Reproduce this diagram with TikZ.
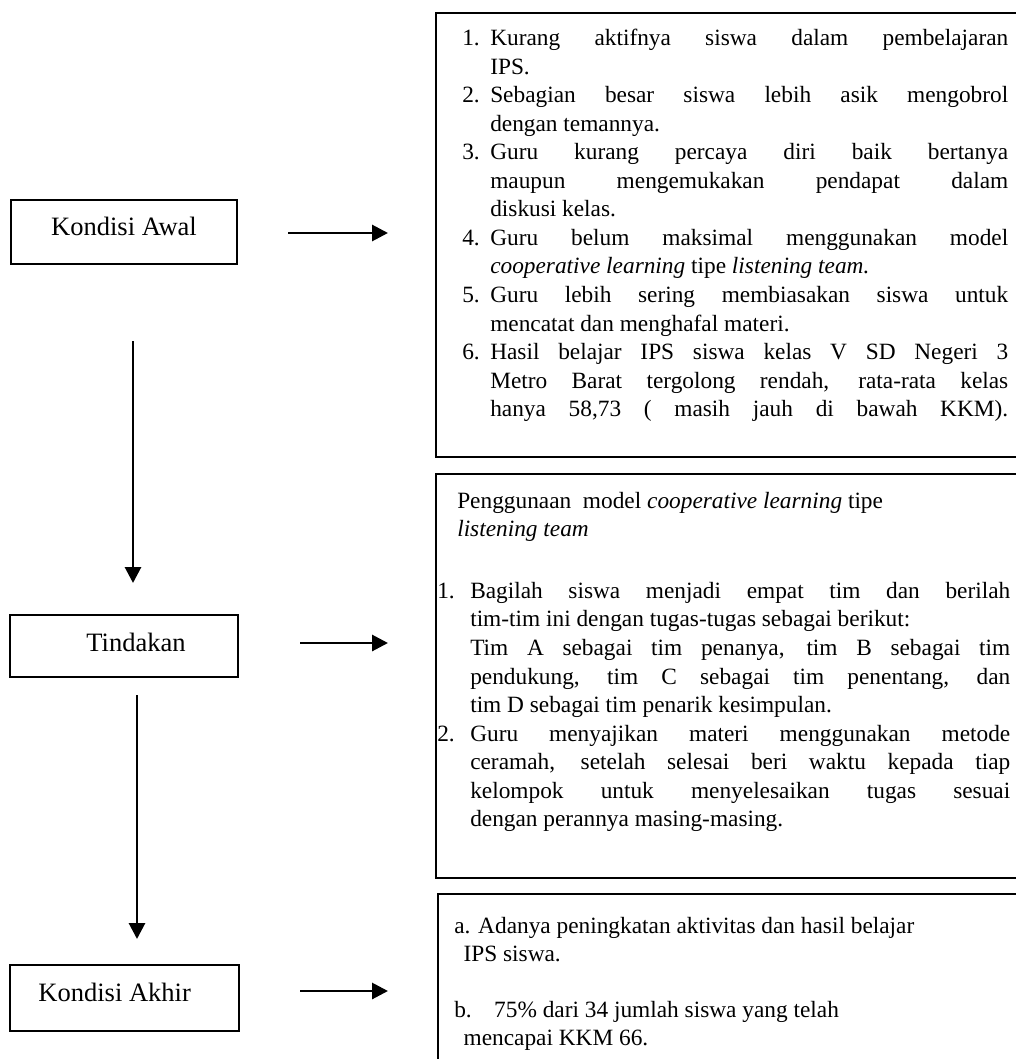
\documentclass[tikz,border=0pt]{standalone}
\usepackage{fontspec}
\setmainfont{Liberation Serif}
\usetikzlibrary{positioning, arrows.meta}
\hbadness=10000
\newcommand{\butir}[3]{\hangindent=#1\hangafter=1\noindent\makebox[#1][l]{#2}#3\par}

\begin{document}
\begin{tikzpicture}[x=0.75pt, y=-0.75pt, node distance=0pt,
  kotak/.style={rectangle, draw, line width=1.5pt, inner sep=0pt, font=\fontsize{19.9}{24}\selectfont},
  bidang/.style={rectangle, draw, line width=1.5pt, inner sep=0pt, anchor=north west, minimum width=446pt},
  isi/.style={inner sep=0pt, anchor=north west, font=\fontsize{17.5}{21.4}\selectfont},
  panah/.style={-{Triangle[length=12pt, width=12pt]}, line width=2.2pt}]
\useasboundingbox (0,0) rectangle (1016,1059);
\clip (0,0) rectangle (1016,1059);
\node[kotak, minimum width=169.5pt, text height=27pt, text depth=21pt] (awal) at (124,232) {Kondisi Awal};
\node[kotak, minimum width=171pt, text height=27pt, text depth=19.5pt, below=261.75pt of awal] (tindakan) {\hspace*{18pt}Tindakan};
\node[kotak, minimum width=171.75pt, text height=27pt, text depth=22.5pt, below=214.5pt of tindakan] (akhir) {Kondisi Akhir\hspace*{14pt}};
\node[bidang, minimum height=333pt] (masalah) at (435,12) {};
\node[bidang, minimum height=303pt] (solusi) at (435,473) {};
\node[bidang, minimum height=140pt] (hasil) at (437,893) {};
\node[isi, text width=409.5pt, align=justify] (masalahisi) at (462,29) {%
\butir{21pt}{1.}{Kurang aktifnya siswa dalam pembelajaran\linebreak IPS.}
\butir{21pt}{2.}{Sebagian besar siswa lebih asik mengobrol\linebreak dengan temannya.}
\butir{21pt}{3.}{Guru kurang percaya diri baik bertanya\linebreak maupun mengemukakan pendapat dalam\linebreak diskusi kelas.}
\butir{21pt}{4.}{Guru belum maksimal menggunakan model\linebreak \textit{cooperative learning} tipe \textit{listening team.}}
\butir{21pt}{5.}{Guru lebih sering membiasakan siswa untuk\linebreak mencatat dan menghafal materi.}
\butir{21pt}{6.}{\parfillskip=0pt Hasil belajar IPS siswa kelas V SD Negeri 3\linebreak Metro Barat tergolong rendah, rata-rata kelas\linebreak hanya 58,73 ( masih jauh di bawah KKM).}};
\node[isi, align=left] (solusijudul) at (457,492) {Penggunaan\ \ model \textit{cooperative learning} tipe\\\textit{listening team}};
\node[isi, text width=429.75pt, align=justify] (solusiisi) at (437,582) {%
\butir{24.75pt}{1.}{Bagilah siswa menjadi empat tim dan berilah\linebreak tim-tim ini dengan tugas-tugas sebagai berikut:\newline Tim A sebagai tim penanya, tim B sebagai tim\linebreak pendukung, tim C sebagai tim penentang, dan\linebreak tim D sebagai tim penarik kesimpulan.}
\butir{24.75pt}{2.}{Guru menyajikan materi menggunakan metode\linebreak ceramah, setelah selesai beri waktu kepada tiap\linebreak kelompok untuk menyelesaikan tugas sesuai\linebreak dengan perannya masing-masing.}};
\node[isi, align=left, font=\fontsize{17.5}{21}\selectfont] (hasilisi) at (454,917) {a. Adanya peningkatan aktivitas dan hasil belajar\\\hspace*{7pt}IPS siswa.\\[21pt]b.\hspace{11pt} 75\% dari 34 jumlah siswa yang telah\\\hspace*{7pt}mencapai KKM 66.};
\coordinate (a1) at (288,233);
\coordinate (a2) at (388,233);
\coordinate (t1) at (300,643);
\coordinate (t2) at (388,643);
\coordinate (k1) at (300,991);
\coordinate (k2) at (388,991);
\coordinate (v1) at (133,341);
\coordinate (v2) at (133,583);
\coordinate (v3) at (137,695);
\coordinate (v4) at (137,939);
\draw[panah] (a1) -- (a2);
\draw[panah] (t1) -- (t2);
\draw[panah] (k1) -- (k2);
\draw[panah] (v1) -- (v2);
\draw[panah] (v3) -- (v4);
\end{tikzpicture}
\end{document}
